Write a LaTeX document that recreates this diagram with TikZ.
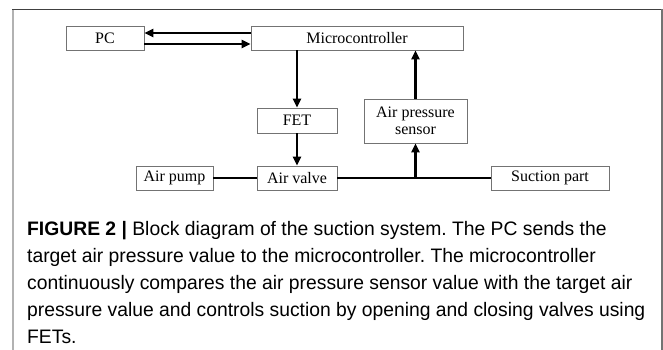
\documentclass[tikz,border=0pt]{standalone}
\usepackage{fontspec}
\setmainfont{Liberation Serif}
\newfontfamily\capfont[FakeStretch=0.99]{Liberation Sans}
\frenchspacing
\usetikzlibrary{arrows.meta, positioning}

\begin{document}
\begin{tikzpicture}[x=1pt, y=-1pt,
  box/.style={draw=black!55, line width=0.9pt, minimum height=24pt, inner sep=0pt, align=center, font=\fontsize{16}{17}\selectfont},
  arr/.style={-{Triangle[length=9pt, width=8pt]}, line width=2.8pt},
  link/.style={line width=2.8pt},
  frame/.style={line width=1.4pt}
]
\useasboundingbox (0,0) rectangle (663,350);
% frame round the figure
\draw[frame, black!75] (12,9.5) -- (662,9.5);
\draw[frame, black!55] (662,9.5) -- (662,350);
\draw[line width=2pt, black!30] (12.5,10) -- (12.5,350);

% blocks
\node[box, minimum width=78pt] (pc) at (105,38) {PC};
\node[box, minimum width=212pt] (micro) at (357,38) {Microcontroller};
\node[box, minimum width=80pt, minimum height=25pt] (fet) at (297,120.5) {FET};
\node[box, minimum width=103pt, minimum height=44pt] (sensor) at (415.5,121) {Air pressure\\sensor};
\node[box, minimum width=77pt] (pump) at (174.5,178) {Air pump};
\node[box, minimum width=80pt] (valve) at (297,178) {Air valve};
\node[box, minimum width=118pt] (suction) at (550,178) {Suction part};
\coordinate (jn) at (sensor.south |- valve.east);

% connectors
\draw[arr] ([yshift=5pt]micro.west) -- ([yshift=5pt]pc.east);
\draw[arr] ([yshift=-6pt]pc.east) -- ([yshift=-6pt]micro.west);
\draw[arr] (micro.south -| fet.north) -- (fet.north);
\draw[arr] (fet) -- (valve);
\draw[arr] (sensor) -- (sensor.north |- micro.south);
\draw[link] (pump) -- (valve);
\draw[link] (valve) -- (suction);
\draw[arr] (jn) -- (sensor.south);

% caption
\node[anchor=north west, inner sep=0pt, align=left, font=\capfont\fontsize{19.5}{27}\selectfont] (caption) at (27,221)
  {\textbf{FIGURE 2 |} Block diagram of the suction system. The PC sends the\\
   target air pressure value to the microcontroller. The microcontroller\\
   continuously compares the air pressure sensor value with the target air\\
   pressure value and controls suction by opening and closing valves using\\
   FETs.};
\end{tikzpicture}
\end{document}
